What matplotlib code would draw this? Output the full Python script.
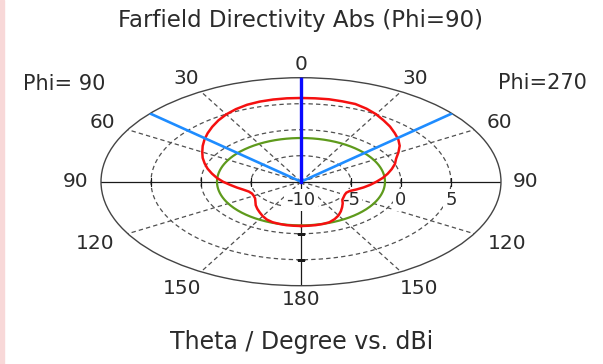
import numpy as np
import matplotlib
matplotlib.use('Agg')
import matplotlib.pyplot as plt
from matplotlib.patches import Rectangle

# directivity cut, theta in degrees, values in dBi
theta_deg = np.arange(0, 181, 5)
phi90_dbi = [6.1, 6.1, 6.05, 5.95, 5.75, 5.4, 4.95, 4.4, 3.8, 3.2,
             2.6, 2.0, 1.4, 0.85, 0.25, -0.33, -0.95, -1.55, -2.2, -2.9,
             -3.5, -4.05, -4.45, -4.6, -4.55, -4.4, -4.05, -3.6, -3.2, -2.8,
             -2.35, -1.95, -1.7, -1.6, -1.52, -1.5, -1.48]
phi270_dbi = [6.1, 6.1, 6.1, 6.0, 5.9, 5.5, 5.0, 4.4, 3.85, 3.25,
              2.7, 2.05, 1.25, 0.5, 0.0, -0.6, -1.2, -1.8, -2.45, -3.05,
              -3.65, -4.25, -4.8, -5.0, -4.95, -4.8, -4.6, -4.1, -3.6, -3.05,
              -2.5, -2.05, -1.7, -1.58, -1.52, -1.5, -1.48]
ref_level_dbi = -1.6
main_lobe_deg = 0
beam_edges_deg = [-49, 49]

r_min, r_max = -10, 10
r_rings = [-5, 0, 5]
r_labels = [-10, -5, 0, 5]
spoke_deg = [30, 60, 120, 150]
theta_labels = [0, 30, 60, 90, 120, 150, 180]

TXT = '#2b2b2b'
GRID = '#505050'

fig = plt.figure(figsize=(6.03, 3.64), dpi=100)
fig.patches.append(Rectangle((0, 0), 0.007, 1, transform=fig.transFigure,
                             color='#f8d8d8', zorder=0))

ax = fig.add_axes([0.1675, 0.2151, 0.6633, 0.5714], projection='polar')
ax.set_aspect('auto')
ax.set_theta_zero_location('N')
ax.set_theta_direction(-1)
ax.set_ylim(r_min, r_max)
ax.set_xticks([])
ax.set_yticks([])
ax.grid(False)
ax.spines['polar'].set_color('#444444')
ax.spines['polar'].set_linewidth(1.0)

# dashed grid: spokes and rings
for a in spoke_deg:
    for s in (-1, 1):
        ax.plot(np.radians([s * a, s * a]), [r_min, r_max], color=GRID,
                lw=0.9, dashes=(3.5, 2.5), zorder=1)
ring_t = np.linspace(0, 2 * np.pi, 361)
for r in r_rings:
    ax.plot(ring_t, np.full_like(ring_t, r), color=GRID, lw=0.9,
            dashes=(3.5, 2.5), zorder=1)

# solid axis lines with small ticks at the rings
for a in (0, 90, 180, -90):
    ax.plot(np.radians([a, a]), [r_min, r_max], color='#1a1a1a', lw=0.9, zorder=2)
for a in (90, -90):
    ax.plot(np.radians([a] * len(r_rings)), r_rings, ls='none', marker='|',
            ms=6, mew=0.9, color='#1a1a1a', zorder=2)
ax.plot(np.radians([180] * len(r_rings)), r_rings, ls='none', marker='_',
        ms=6, mew=0.9, color='#1a1a1a', zorder=2)

# radial labels below the 90 axis
for r in r_labels:
    ax.annotate(str(r), xy=(np.radians(90), r), xytext=(0, -13),
                textcoords='offset points', ha='center', va='center',
                fontsize=13, color=TXT, zorder=2.5,
                bbox=dict(fc='white', ec='none', pad=1.5))

# reference level and the pattern (Phi=90 drawn on the left half)
ax.plot(ring_t, np.full_like(ring_t, ref_level_dbi), color='#5e9a1c', lw=1.6, zorder=3)
t_all = np.radians(np.concatenate([-theta_deg[::-1], theta_deg[1:]]))
d_all = np.concatenate([np.array(phi90_dbi)[::-1], np.array(phi270_dbi)[1:]])
ax.plot(t_all, d_all, color='#f51010', lw=1.8, zorder=4)

# main lobe direction and beam width edges
for e in beam_edges_deg:
    ax.plot(np.radians([e, e]), [r_min, r_max], color='#1e8cff', lw=1.9, zorder=5)
ax.plot(np.radians([main_lobe_deg] * 2), [r_min, r_max], color='#0a0aff', lw=2.4, zorder=6)

# theta labels on both halves
label_r = {0: 12.6, 30: 12.9, 60: 12.9, 90: 12.5, 120: 13.8, 150: 13.7, 180: 12.7}
for t in theta_labels:
    sides = (1,) if t in (0, 180) else (-1, 1)
    for s in sides:
        ax.text(np.radians(s * t), label_r[t], str(t), ha='center', va='center',
                fontsize=14.5, color=TXT, clip_on=False)

fig.text(0.498, 0.944, 'Farfield Directivity Abs (Phi=90)', ha='center',
         va='center', fontsize=16.5, color=TXT)
fig.text(0.107, 0.769, 'Phi= 90', ha='center', va='center', fontsize=15, color=TXT)
fig.text(0.899, 0.772, 'Phi=270', ha='center', va='center', fontsize=15, color=TXT)
fig.text(0.501, 0.060, 'Theta / Degree vs. dBi', ha='center', va='center',
         fontsize=17, color=TXT)

fig.savefig('out.png', dpi=100)
